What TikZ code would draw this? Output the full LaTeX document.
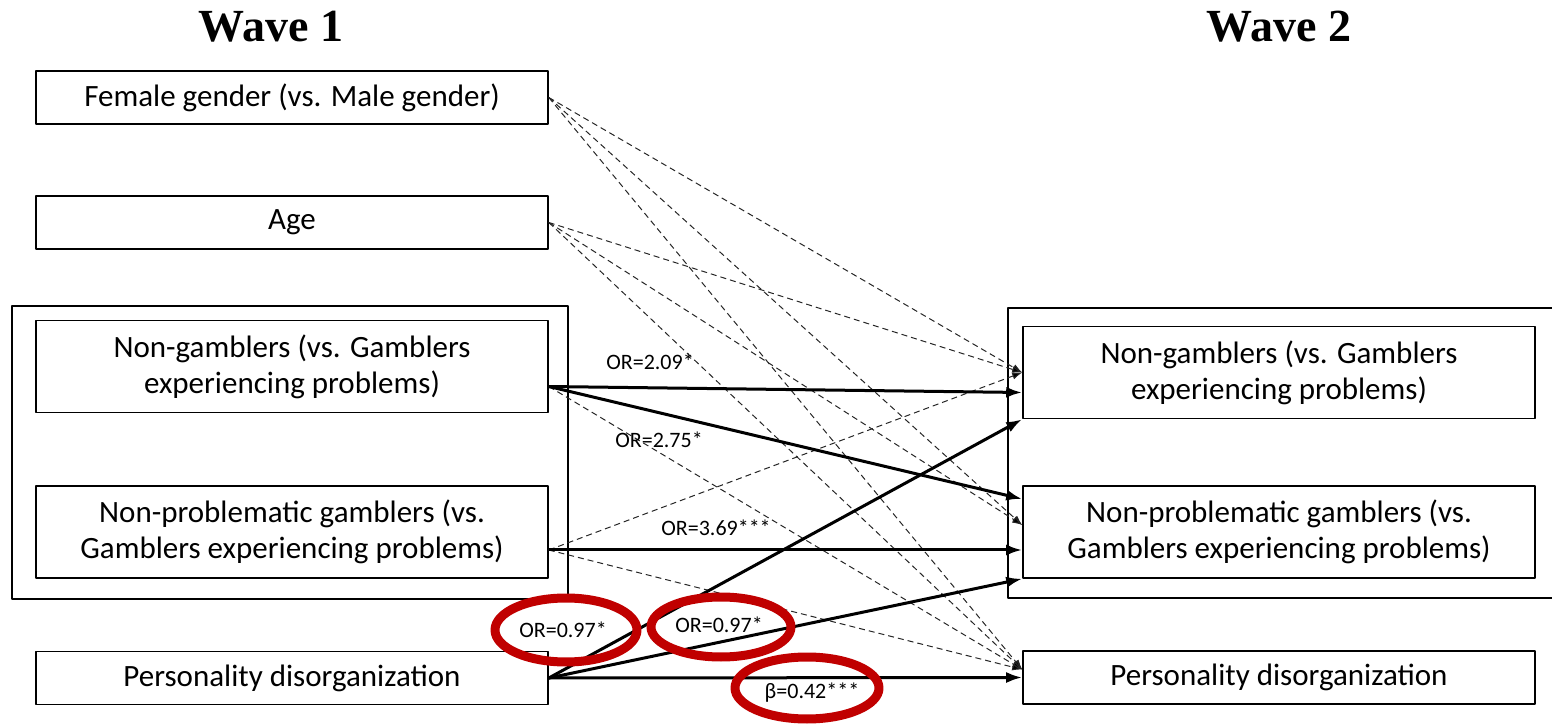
\documentclass[tikz,border=0pt]{standalone}
\usepackage{fontspec}
\setmainfont{Carlito}
\newfontfamily\titlefont{Liberation Serif}
\usetikzlibrary{arrows.meta}
\definecolor{ringred}{HTML}{C00000}
\tikzset{
  box/.style={draw,line width=0.8pt,minimum width=256pt,align=center,inner sep=2pt,font=\fontsize{15.5}{18}\selectfont},
  lbl/.style={font=\fontsize{11}{12}\selectfont,inner sep=1pt},
  eff/.style={line width=1.5pt,-{Latex[length=8pt,width=5.5pt]}},
  ctrl/.style={densely dashed,line width=0.5pt,black!85,-{Latex[length=5pt,width=3.5pt,fill=black]}},
  ring/.style={line width=4.5pt,draw=ringred}
}
\begin{document}
\begin{tikzpicture}[x=0.5pt,y=-0.5pt,line join=round]
	\useasboundingbox (0,0) rectangle (1552,726);
	%Wave 1 and Wave 2
	\node[font=\titlefont\bfseries\fontsize{23}{26}\selectfont] (w1) at (271,27) {Wave 1};
	\node[font=\titlefont\bfseries\fontsize{23}{26}\selectfont] (w2) at (1279,27) {Wave 2};
	\draw[line width=0.8pt] (12,306) rectangle (568,599) (1008,308) rectangle (1560,598);
	\node[box,minimum height=26.5pt] (fem) at (292,97.5) {Female gender (vs. Male gender)};
	\node[box,minimum height=26.5pt] (age) at (292,222.5) {Age};
	\node[box,minimum height=46pt] (ngL) at (292,366.5) {Non-gamblers (vs. Gamblers\\experiencing problems)};
	\node[box,minimum height=46pt] (npL) at (292,532) {Non-problematic gamblers (vs.\\Gamblers experiencing problems)};
	\node[box,minimum height=26.5pt] (pdL) at (292,678) {Personality disorganization};
	\node[box,minimum height=46pt] (ngR) at (1279,372.5) {Non-gamblers (vs. Gamblers\\experiencing problems)};
	\node[box,minimum height=46pt] (npR) at (1279,532) {Non-problematic gamblers (vs.\\Gamblers experiencing problems)};
	\node[box,minimum height=26.5pt] (pdR) at (1279,677.5) {Personality disorganization};
	%controls
	\foreach \s/\a/\t/\d in {fem/0/ngR/0,fem/0/npR/3.5,fem/0/pdR/4,age/0/ngR/0,age/0/npR/3.5,age/0/pdR/4,ngL/-10/pdR/4,npL/-9/ngR/0,npL/-9/pdR/4}{
		\draw[ctrl] ([yshift=\a pt]\s.east) -- ([yshift=\d pt]\t.west);}
	%effects
	\draw[eff] ([yshift=-10pt]ngL.east) -- ([yshift=-10pt]ngR.west);
	\draw[eff] ([yshift=-10pt]ngL.east) -- ([yshift=16.5pt]npR.west);
	\draw[eff] ([yshift=-9pt]npL.east) -- ([yshift=-9pt]npR.west);
	\draw[eff] (pdL.east) -- (ngR.south west);
	\draw[eff] (pdL.east) -- (npR.south west);
	\draw[eff] (pdL.east) -- (pdR.west);
	\node[lbl] (or1) at (650,362) {OR=2.09*};
	\node[lbl] (or2) at (659,440) {OR=2.75*};
	\node[lbl] (or3) at (716,528) {OR=3.69***};
	\node[lbl] (or4) at (563,630) {OR=0.97*};
	\node[lbl] (or5) at (719,625) {OR=0.97*};
	\node[lbl] (b1) at (812,693) {β=0.42***};
	\draw[ring] ([xshift=1.5pt]or4.center) ellipse [x radius=35.5pt,y radius=16pt];
	\draw[ring] ([xshift=1pt,yshift=-1pt]or5.center) ellipse [x radius=35pt,y radius=15pt];
	\draw[ring] ([xshift=-2.5pt,yshift=2.5pt]b1.center) ellipse [x radius=36pt,y radius=15.5pt];
\end{tikzpicture}
\end{document}
